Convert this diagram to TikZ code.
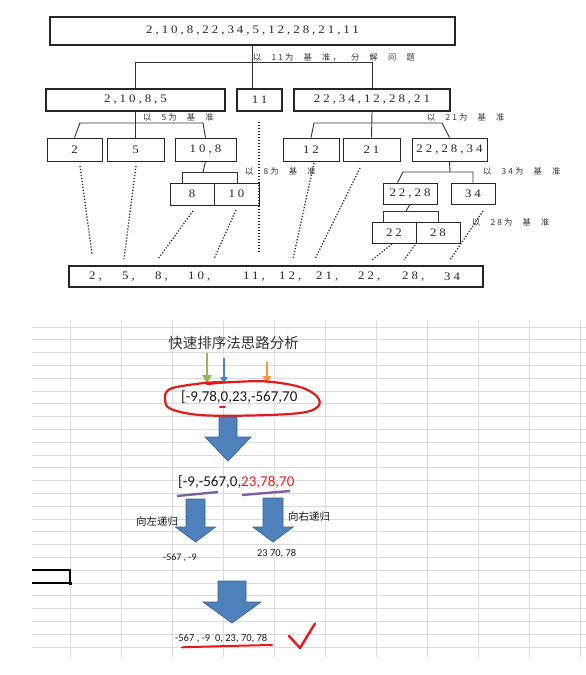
\documentclass[tikz,border=0pt]{standalone}
\usepackage{fontspec}
\setmainfont{Liberation Serif}
\newfontfamily\treefont[LetterSpace=26,FakeStretch=1.12]{Liberation Serif}
\newfontfamily\notefont[LetterSpace=25,WordSpace=2.6]{Noto Sans CJK SC}
\newfontfamily\cjkfont{Noto Sans CJK SC}
\newfontfamily\calfont{Carlito}
\usetikzlibrary{arrows.meta}
\definecolor{gridgray}{HTML}{DADADA}
\definecolor{inkred}{HTML}{E31A1C}
\definecolor{numred}{HTML}{E02424}
\definecolor{arrowblue}{HTML}{4F81BD}
\definecolor{arrowedge}{HTML}{3A6496}
\definecolor{pengreen}{HTML}{92B956}
\definecolor{penorange}{HTML}{F79646}
\definecolor{penpurple}{HTML}{7E5FA3}
\tikzset{
  tbox/.style={draw=black!85, line width=1.8pt, inner sep=0pt, text=black!85,
    font={\treefont\fontsize{11.5}{12}\selectfont}},
  sbox/.style={tbox, line width=0.9pt},
  link/.style={draw=black!80, line width=0.9pt},
  dotl/.style={draw=black!85, line width=1.3pt, dash pattern=on 1.2pt off 1.8pt},
  note/.style={anchor=west, inner sep=0pt, text=black!80,
    font={\notefont\fontsize{8.3}{9}\selectfont}},
  resitem/.style={anchor=west, inner sep=0pt, text=black!85,
    font={\treefont\fontsize{11.5}{12}\selectfont}},
  gridline/.style={draw=gridgray, line width=0.8pt},
  barrow/.style={fill=arrowblue, draw=arrowedge, line width=0.7pt, line join=miter},
  pen/.style={line width=2.6pt, -{Triangle[width=9pt,length=9pt]}},
  sheettext/.style={anchor=west, inner sep=0pt, text=black!90},
}
\begin{document}
\begin{tikzpicture}[x=1pt,y=-1pt]
\useasboundingbox (0,0) rectangle (586,675);
\fill[white] (0,0) rectangle (586,675);

% ---------------- partition tree ----------------
\node[tbox, minimum width=405pt, minimum height=28pt] (top) at (252.5,31) {2,10,8,22,34,5,12,28,21,11};

\node[tbox, minimum width=179pt, minimum height=22pt] (A) at (135.5,100) {2,10,8,5};
\node[tbox, minimum width=45pt,  minimum height=22pt] (B) at (259.5,100) {11};
\node[tbox, minimum width=156pt, minimum height=22pt] (C) at (372,100) {22,34,12,28,21};

\node[sbox, minimum width=55pt, minimum height=23pt] (b2)   at (74.5,149.5)  {2};
\node[sbox, minimum width=57pt, minimum height=23pt] (b5)   at (135.5,149.5) {5};
\node[sbox, minimum width=61pt, minimum height=23pt] (b108) at (205.5,149.5) {10,8};
\node[sbox, minimum width=56pt, minimum height=23pt] (b12)  at (311,149.5)   {12};
\node[sbox, minimum width=57pt, minimum height=23pt] (b21)  at (371.5,149.5) {21};
\node[sbox, minimum width=75pt, minimum height=23pt] (bR3)  at (449.5,149.5) {22,28,34};

\node[sbox, minimum width=44pt, minimum height=22pt] (b8)   at (192,194)   {8};
\node[sbox, minimum width=45pt, minimum height=22pt] (b10)  at (236.5,194) {10};
\node[sbox, minimum width=54pt, minimum height=21pt] (bR2)  at (410,193.5) {22,28};
\node[sbox, minimum width=44pt, minimum height=21pt] (b34)  at (473,193.5) {34};

\node[sbox, minimum width=44pt, minimum height=21pt] (b22)  at (394,232.5) {22};
\node[sbox, minimum width=44pt, minimum height=21pt] (b28)  at (438,232.5) {28};

\node[tbox, minimum width=414pt, minimum height=21pt] (res) at (276,276.5) {};
\node[resitem] (r1)  at (89,277)  {2,};
\node[resitem] (r2)  at (122,277) {5,};
\node[resitem] (r3)  at (155,277) {8,};
\node[resitem] (r4)  at (188,277) {10,};
\node[resitem] (r5)  at (243,277) {11,};
\node[resitem] (r6)  at (279,277) {12,};
\node[resitem] (r7)  at (316,277) {21,};
\node[resitem] (r8)  at (358,277) {22,};
\node[resitem] (r9)  at (402,277) {28,};
\node[resitem] (r10) at (444,277) {34};

% pivot notes
\node[note] (n11) at (253,57)  {以 11为 基 准， 分 解 问 题};
\node[note] (n5)  at (143,117) {以 5为 基 准};
\node[note] (n21) at (427,117) {以 21为 基 准};
\node[note] (n8)  at (245,171) {以 8为 基 准};
\node[note] (n34) at (483,171) {以 34为 基 准};
\node[note] (n28) at (472,222) {以 28为 基 准};

% split brackets
\coordinate (j1L) at (136,62);  \coordinate (j1R) at (372,62);
\coordinate (j2L) at (80,123);  \coordinate (j2R) at (203,123);
\coordinate (k2L) at (314,123); \coordinate (k2R) at (442,123);
\coordinate (j3)  at (203,172); \coordinate (j3L) at (182,172); \coordinate (j3R) at (237,172);
\coordinate (k3)  at (450,172); \coordinate (k3L) at (403,172); \coordinate (k3R) at (473,172);
\coordinate (m4)  at (406,211); \coordinate (m4L) at (383,211); \coordinate (m4R) at (438,211);

\draw[link] (top.south) -- (top.south |- B.north);
\draw[link] (A.north) -- (A.north |- j1L) -- (j1R) -- (C.north);

\draw[link] (A.south) -- (b5.north);
\draw[link] (b2.north) -- (j2L) -- (j2R) -- (b108.north);
\draw[link] (C.south) -- (b21.north);
\draw[link] (b12.north) -- (k2L) -- (k2R) -- (bR3.north);

\draw[link] (b108.south) -- (j3);
\draw[link] (j3L |- b8.north) -- (j3L) -- (j3R) -- (j3R |- b10.north);
\draw[link] (bR3.south) -- (k3);
\draw[link] ([xshift=15pt]bR2.north west) -- (k3L) -- (k3R) -- (k3R |- b34.north);
\draw[link] (bR2.south) -- (m4);
\draw[link] (m4L |- b22.north) -- (m4L) -- (m4R) -- (m4R |- b28.north);

% dotted drops into the sorted row
\coordinate (d1s) at (80,166);   \coordinate (d1e) at (92,254);
\coordinate (d2s) at (136,166);  \coordinate (d2e) at (124,259);
\coordinate (d3s) at (193,211);  \coordinate (d3e) at (158,259);
\coordinate (d4s) at (236,210);  \coordinate (d4e) at (214,259);
\coordinate (d5s) at (259,122);  \coordinate (d5e) at (259,253);
\coordinate (d6s) at (314,163);  \coordinate (d6e) at (293,259);
\coordinate (d7s) at (360,168);  \coordinate (d7e) at (315,259);
\coordinate (d8s) at (392,244);  \coordinate (d8e) at (372,260);
\coordinate (d9s) at (415,245);  \coordinate (d9e) at (404,260);
\coordinate (d10s) at (483,211); \coordinate (d10e) at (450,260);
\foreach \i in {1,...,10} \draw[dotl] (d\i s) -- (d\i e);

% ---------------- worksheet ----------------
\foreach \k in {0,...,25} \draw[gridline] (32,{327+12.8*\k}) -- (586,{327+12.8*\k});
\foreach \k in {0,...,10} \draw[gridline] ({70+51*\k},320) -- ({70+51*\k},657);

% active cell
\draw[black, line width=2pt] (32,570) -- (70,570) -- (70,583) -- (32,583);
\fill[black] (68.5,581.5) rectangle (71.5,584.5);

\node[sheettext, anchor=center, text=black!80, font={\cjkfont\fontsize{14.5}{16}\selectfont}] (title) at (233.5,343) {快速排序法思路分析};

\coordinate (gA) at (207,353); \coordinate (gB) at (207,384);
\coordinate (uA) at (224,358); \coordinate (uB) at (224,384);
\coordinate (oA) at (267,362); \coordinate (oB) at (267,384);
\draw[pen, pengreen] (gA) -- (gB);
\draw[pen, arrowblue, line width=2pt, -{Triangle[width=7pt,length=7pt]}] (uA) -- (uB);
\draw[pen, penorange, line width=2.2pt, -{Triangle[width=8pt,length=8pt]}] (oA) -- (oB);

\node[sheettext, font={\calfont\fontsize{15}{17}\selectfont}] (arr0) at (181,397) {[-9,78,0,23,-567,70};
\draw[inkred, line width=2.2pt, line cap=round]
  plot[smooth, tension=0.6] coordinates {(222,382) (200,383.5) (170,389) (165,400) (171,409) (200,415) (250,415.5) (300,413) (318,406.5) (317,396.5) (300,387) (267,381.5) (233,382) (207,384)};
\draw[inkred, line width=2pt, line cap=round] (220,407) -- (225,407);

\filldraw[barrow] (219,417) -- (237,417) -- (237,437) -- (251,437) -- (228,461) -- (205,437) -- (219,437) -- cycle;

\node[sheettext, font={\calfont\fontsize{15}{17}\selectfont}] (arr1) at (178,482) {[-9,-567,0,\textcolor{numred}{23,78,70}};
\draw[penpurple, line width=2.4pt] (177,496) -- (218,492);
\draw[penpurple, line width=2.4pt] (242,495) -- (290,491);

\filldraw[barrow] (186,499) -- (205,499) -- (205,527) -- (215.5,527) -- (195.5,542) -- (175.5,527) -- (186,527) -- cycle;
\filldraw[barrow] (263,498) -- (283,498) -- (283,527) -- (293,527) -- (273,542) -- (253,527) -- (263,527) -- cycle;

\node[sheettext, font={\cjkfont\fontsize{10.5}{12}\selectfont}] (goL) at (136,522) {向左递归};
\node[sheettext, font={\cjkfont\fontsize{10.5}{12}\selectfont}] (goR) at (288,517) {向右递归};

\node[sheettext, font={\calfont\fontsize{10}{12}\selectfont}] (partL) at (163,558) {-567 , -9};
\node[sheettext, font={\calfont\fontsize{10.4}{12}\selectfont}] (partR) at (257,554) {23 70, 78};

\filldraw[barrow] (218,581) -- (246,581) -- (246,602) -- (261,602) -- (232,623) -- (203,602) -- (218,602) -- cycle;

\node[sheettext, font={\calfont\fontsize{10.5}{12}\selectfont}] (done) at (175,639) {-567 , -9~~0, 23, 70, 78};
\draw[inkred, line width=2pt, line cap=round] (182,647.3) .. controls (210,646.5) and (245,645.5) .. (272,645);
\draw[inkred, line width=2.4pt, line cap=round, line join=round] (289,636) -- (300,648) -- (315,623.5);

\end{tikzpicture}
\end{document}
